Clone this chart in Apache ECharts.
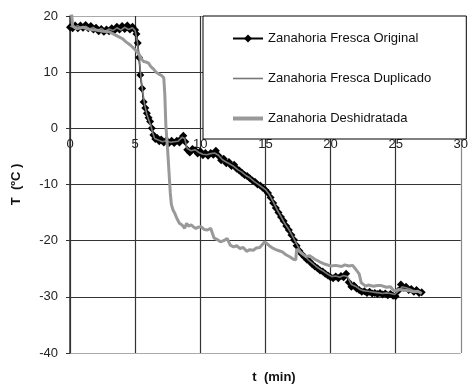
<!DOCTYPE html>
<html>
<head>
<meta charset="utf-8">
<script src="https://cdn.jsdelivr.net/npm/echarts@6/dist/echarts.min.js"></script>
<style>html,body{margin:0;padding:0;background:#fff}#c{width:471px;height:387px}</style>
</head>
<body>
<div id="c"></div>
<script>
// Tick values
var xTicks = [0, 5, 10, 15, 20, 25, 30];
var yTicks = [-40, -30, -20, -10, 0, 10, 20];
var seriesNames = ['Zanahoria Fresca Original', 'Zanahoria Fresca Duplicado', 'Zanahoria Deshidratada'];

// Zanahoria Fresca Original: time (min) and temperature (ºC)
var origT = [0,0.2,0.4,0.6,0.8,1.0,1.2,1.4,1.6,1.8,2.0,2.2,2.4,2.6,2.8,3.0,3.2,3.4,3.6,3.8,4.0,4.2,4.4,4.6,4.8,5.0,
  5.1,5.2,5.3,5.4,5.53,5.65,5.78,5.9,6.03,6.15,6.28,6.4,6.55,6.7,6.85,7.0,7.2,7.4,7.6,7.8,8.0,8.2,8.4,8.55,8.7,8.85,
  9.0,9.2,9.4,9.6,9.8,10.0,10.2,10.4,10.6,10.8,11.0,11.2,11.4,11.6,11.8,12.0,12.2,12.4,12.6,12.8,13.0,13.2,13.4,13.6,13.8,
  14.0,14.2,14.4,14.6,14.8,15.0,15.2,15.4,15.6,15.8,16.0,16.2,16.4,16.6,16.8,17.0,17.2,17.4,17.6,17.8,18.0,18.2,18.4,18.6,18.8,
  19.0,19.2,19.4,19.6,19.8,20.0,20.2,20.4,20.6,20.8,21.0,21.2,21.4,21.6,21.8,22.0,22.2,22.4,22.6,22.8,23.0,23.2,23.4,23.6,23.8,
  24.0,24.2,24.4,24.6,24.8,25.0,25.2,25.4,25.6,25.8,26.0,26.2,26.4,26.6,26.8,27.0];
var origV = [18.0,17.8,18.3,17.8,18.3,17.9,18.4,17.8,18.2,17.6,17.9,17.3,17.7,17.2,17.6,17.3,17.8,17.4,18.1,17.6,18.2,17.7,18.3,17.6,18.1,17.5,
  16.8,15.2,12.6,9.5,7.1,4.7,3.6,2.7,1.9,1.2,0.0,-1.2,-1.9,-1.7,-2.3,-2.0,-2.5,-2.1,-2.6,-2.2,-2.6,-2.2,-2.5,-1.8,-1.3,-2.4,
  -3.8,-4.3,-3.7,-3.9,-4.5,-4.1,-4.8,-4.4,-4.9,-4.4,-4.7,-4.0,-4.9,-5.7,-5.4,-6.2,-6.0,-6.7,-6.5,-7.2,-7.5,-7.9,-8.3,-8.5,-8.9,
  -9.3,-9.5,-10.0,-10.2,-10.6,-11.0,-11.5,-12.3,-13.3,-14.2,-15.0,-15.8,-16.5,-17.4,-18.1,-19.0,-19.9,-20.9,-21.8,-22.4,-22.9,-23.4,-23.7,-24.2,-24.6,
  -24.9,-25.3,-25.5,-25.9,-26.2,-26.5,-26.7,-26.4,-26.7,-26.3,-26.5,-25.9,-27.4,-28.2,-28.0,-28.5,-28.8,-29.1,-29.0,-29.3,-29.1,-29.4,-29.3,-29.5,-29.3,
  -29.6,-29.4,-29.7,-29.5,-29.8,-29.9,-28.9,-27.8,-28.4,-28.2,-28.8,-28.6,-29.1,-28.8,-29.3,-29.2];

// Zanahoria Fresca Duplicado
var dupT = [0,0.3,0.6,0.9,1.2,1.5,1.8,2.1,2.4,2.7,3.0,3.3,3.6,3.9,4.2,4.5,4.8,5.0,5.15,5.3,5.45,5.6,5.75,5.9,6.05,6.2,6.35,6.5,
  6.8,7.1,7.4,7.7,8.0,8.3,8.6,8.8,9.0,9.3,9.6,9.9,10.2,10.5,10.8,11.1,11.4,11.7,12.0,12.3,12.6,12.9,13.2,13.5,13.8,14.1,14.4,14.7,
  15.0,15.3,15.6,15.9,16.2,16.5,16.8,17.1,17.4,17.7,18.0,18.3,18.6,18.9,19.2,19.5,19.8,20.1,20.4,20.7,21.0,21.3,21.6,21.9,22.2,
  22.5,22.8,23.1,23.4,23.7,24.0,24.3,24.6,24.9,25.2,25.5,25.8,26.1,26.4,26.7,27.0];
var dupV = [18.2,17.9,18.3,17.8,18.2,17.7,18.0,17.4,17.8,17.3,17.7,17.4,17.9,17.5,18.0,17.6,17.9,17.4,15.8,12.8,9.0,6.2,4.0,2.5,1.5,0.5,-0.8,-1.8,
  -2.1,-2.4,-2.2,-2.5,-2.4,-2.3,-1.6,-1.8,-3.6,-4.0,-3.8,-4.3,-4.6,-4.7,-4.5,-4.4,-4.8,-5.6,-6.0,-6.4,-6.8,-7.4,-7.8,-8.4,-8.8,-9.4,-9.9,-10.4,
  -10.9,-11.8,-13.1,-14.5,-15.7,-17.0,-18.0,-19.3,-20.6,-21.9,-22.7,-23.4,-24.0,-24.6,-25.1,-25.5,-26.0,-26.4,-26.3,-26.5,-26.2,-26.4,-27.8,-28.1,-28.6,
  -28.9,-29.0,-29.1,-29.2,-29.3,-29.4,-29.3,-29.4,-29.6,-29.0,-28.2,-28.4,-28.6,-28.9,-29.0,-29.3];

// Zanahoria Deshidratada
var desT = [0,0.2,0.5,1.0,1.5,2.0,2.5,3.0,3.5,4.0,4.3,4.65,5.0,5.15,5.3,5.5,5.65,5.85,6.03,6.2,6.4,6.6,6.8,7.03,7.2,7.28,7.36,
  7.5,7.62,7.7,7.78,7.9,8.04,8.2,8.4,8.6,8.8,8.95,9.1,9.3,9.5,9.67,9.85,10.05,10.3,10.55,10.8,11.05,11.3,11.55,11.8,12.06,
  12.3,12.56,12.8,13.06,13.3,13.56,13.8,14.07,14.3,14.57,14.8,14.95,15.1,15.3,15.55,15.8,16.05,16.3,16.58,16.9,17.15,17.33,
  17.4,17.7,18.1,18.4,18.8,19.2,19.6,20.0,20.4,20.85,21.1,21.4,21.7,22.0,22.2,22.36,22.7,22.9,23.3,23.6,23.9,24.3,24.6,24.9,
  25.2,25.6,26.0,26.4,26.7,27.0];
var desV = [24,18.3,17.7,18.0,17.6,17.5,17.3,17.2,16.6,16.0,15.4,14.8,14.0,13.6,13.2,12.3,11.9,11.8,11.6,11.0,10.6,10.0,9.7,9.4,9.0,6.0,0.5,
  -4.0,-8.5,-11.5,-13.5,-14.5,-15.1,-16.0,-16.9,-17.2,-17.8,-16.9,-17.4,-17.2,-17.6,-17.8,-17.6,-17.5,-18.0,-18.1,-17.8,-19.5,-19.8,-20.2,-20.0,-19.6,
  -20.8,-21.1,-20.9,-21.4,-21.2,-21.9,-21.6,-21.7,-21.3,-21.2,-20.6,-20.2,-20.4,-20.9,-21.3,-21.6,-21.8,-22.0,-22.5,-22.9,-23.3,-23.4,
  -21.5,-22.1,-22.8,-22.7,-23.3,-23.8,-24.2,-24.5,-24.4,-24.6,-24.3,-24.5,-24.4,-25.3,-25.9,-27.5,-28.1,-27.9,-28.1,-28.0,-28.0,-28.3,-28.2,-29.0,
  -28.7,-28.8,-28.9,-29.1,-29.0,-29.4];

function pairs(ts, vs) { return ts.map(function (t, i) { return [t, vs[i]]; }); }

var FONT = '"Liberation Sans", Arial, sans-serif';
var chart = echarts.init(document.getElementById('c'), null, { renderer: 'canvas' });
chart.setOption({
  animation: false,
  backgroundColor: '#fff',
  title: {
    text: 't  (min)', left: 269, textAlign: 'center', top: 366,
    textStyle: { fontFamily: FONT, fontSize: 13, fontWeight: 'bold', color: '#111' }
  },
  grid: { left: 70, right: 3, top: 16, bottom: 34, containLabel: false },
  legend: {
    data: [
      { name: seriesNames[0] },
      { name: seriesNames[1], itemStyle: { opacity: 0 }, lineStyle: { width: 1.6 } },
      { name: seriesNames[2], itemStyle: { opacity: 0 }, lineStyle: { width: 4 } }
    ],
    orient: 'vertical', left: 203, top: 16,
    itemWidth: 30, itemHeight: 10, itemGap: 27,
    padding: [16, 35, 14, 28],
    backgroundColor: '#fff', borderColor: '#000', borderWidth: 1,
    textStyle: { fontFamily: FONT, fontSize: 13, color: '#111' }
  },
  xAxis: [{
    type: 'value', min: xTicks[0], max: xTicks[xTicks.length - 1], interval: xTicks[1] - xTicks[0],
    position: 'bottom', offset: -224.7,
    axisLine: { show: true, onZero: false, lineStyle: { color: '#333', width: 1.2 } },
    axisTick: { show: true, length: 4, lineStyle: { color: '#333' } },
    axisLabel: { fontFamily: FONT, fontSize: 13, color: '#222', margin: 10 },
    splitLine: { show: true, lineStyle: { color: ['#333', '#333', '#333', '#333', '#333', '#333', '#888'], width: 1.2 } }
  }],
  yAxis: {
    type: 'value', min: yTicks[0], max: yTicks[yTicks.length - 1], interval: yTicks[1] - yTicks[0],
    name: 'T  (ºC )', nameLocation: 'middle', nameGap: 47, nameRotate: 90,
    nameTextStyle: { fontFamily: FONT, fontSize: 13, fontWeight: 'bold', color: '#111' },
    axisLine: { show: true, onZero: false, lineStyle: { color: '#333', width: 1.5 } },
    axisTick: { show: true, length: 4, lineStyle: { color: '#333' } },
    axisLabel: { fontFamily: FONT, fontSize: 13, color: '#222', margin: 12 },
    splitLine: { show: true, lineStyle: { color: ['#aaa', '#333', '#333', '#333', '#333', '#333', '#aaa'], width: 1.2 } }
  },
  series: [
    {
      name: seriesNames[0], type: 'line', data: pairs(origT, origV),
      symbol: 'diamond', symbolSize: 8, showSymbol: true,
      itemStyle: { color: '#000' }, lineStyle: { color: '#000', width: 1.5 }, z: 2
    },
    {
      name: seriesNames[1], type: 'line', data: pairs(dupT, dupV),
      symbol: 'circle', symbolSize: 0, showSymbol: false,
      itemStyle: { color: '#777' }, lineStyle: { color: '#777', width: 1.6 }, z: 3
    },
    {
      name: seriesNames[2], type: 'line', data: pairs(desT, desV),
      symbol: 'circle', symbolSize: 0, showSymbol: false,
      itemStyle: { color: '#999' }, lineStyle: { color: '#999', width: 3 }, z: 4
    }
  ]
});
</script>
</body>
</html>
